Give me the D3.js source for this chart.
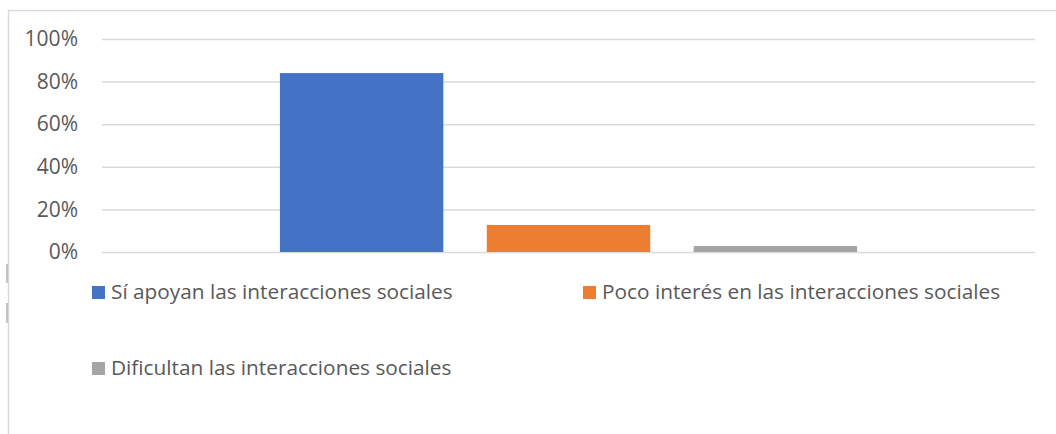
<!DOCTYPE html>
<html>
<head>
<meta charset="utf-8">
<script src="https://cdn.jsdelivr.net/npm/d3@7"></script>
<style>
  body { margin: 0; background: #fff; }
  svg text { font-family: "Open Sans", "Liberation Sans", sans-serif; fill: #595959; }
</style>
</head>
<body>
<div id="chart"></div>
<script>
/* DATA */
const series = ["Sí apoyan las interacciones sociales", "Poco interés en las interacciones sociales", "Dificultan las interacciones sociales"];
const values = [0.84, 0.127, 0.028];
const colors = ["#4472c4", "#ed7d31", "#a5a5a5"];
const yTicks = [0, 0.2, 0.4, 0.6, 0.8, 1];

/* LAYOUT */
const width = 1056, height = 434;
const margin = { top: 39, bottom: 182, left: 102, right: 21 };

const svg = d3.select("#chart")
  .append("svg")
  .attr("width", width)
  .attr("height", height);

// chart frame
svg.append("rect")
  .attr("x", 8.5).attr("y", 10.5)
  .attr("width", width).attr("height", height)
  .attr("fill", "none")
  .attr("stroke", "#d9d9d9")
  .attr("stroke-width", 1.5);

// small marks on the left edge
svg.selectAll("line.edge")
  .data([[264, 283], [303, 323]])
  .join("line")
  .attr("class", "edge")
  .attr("x1", 7).attr("x2", 7)
  .attr("y1", d => d[0]).attr("y2", d => d[1])
  .attr("stroke", "#b0b0b0")
  .attr("stroke-width", 1.5);

/* SCALES */
const xScale = d3.scaleBand()
  .domain(series)
  .range([margin.left, width - margin.right])
  .paddingInner(0.21)
  .paddingOuter(0.86);

const yScale = d3.scaleLinear()
  .domain([0, 1])
  .range([height - margin.bottom, margin.top]);

/* GRID + AXIS */
const yAxis = d3.axisLeft(yScale)
  .tickValues(yTicks)
  .tickFormat(d3.format(".0%"))
  .tickSize(-(width - margin.left - margin.right))
  .tickPadding(24);

const yAxisGroup = svg.append("g")
  .attr("transform", `translate(${margin.left},0)`)
  .call(yAxis);

yAxisGroup.select(".domain").remove();
yAxisGroup.selectAll(".tick line")
  .attr("stroke", "#d9d9d9")
  .attr("stroke-width", 1.5);
yAxisGroup.selectAll(".tick text")
  .attr("font-size", 21)
  .attr("font-family", "\"Open Sans\", sans-serif")
  .attr("fill", "#595959");

/* BARS */
svg.selectAll("rect.bar")
  .data(values)
  .join("rect")
  .attr("class", "bar")
  .attr("x", (d, i) => xScale(series[i]))
  .attr("width", xScale.bandwidth())
  .attr("y", d => yScale(d))
  .attr("height", d => yScale(0) - yScale(d))
  .attr("fill", (d, i) => colors[i]);

/* LEGEND */
const legendPos = [[92, 286], [583, 286], [92, 362]];
const legend = svg.selectAll("g.legend")
  .data(series)
  .join("g")
  .attr("class", "legend")
  .attr("transform", (d, i) => `translate(${legendPos[i][0]},${legendPos[i][1]})`);

legend.append("rect")
  .attr("width", 13).attr("height", 13)
  .attr("fill", (d, i) => colors[i]);

legend.append("text")
  .attr("x", 19)
  .attr("y", 13)
  .attr("font-size", 20.8)
  .text(d => d);
</script>
</body>
</html>
